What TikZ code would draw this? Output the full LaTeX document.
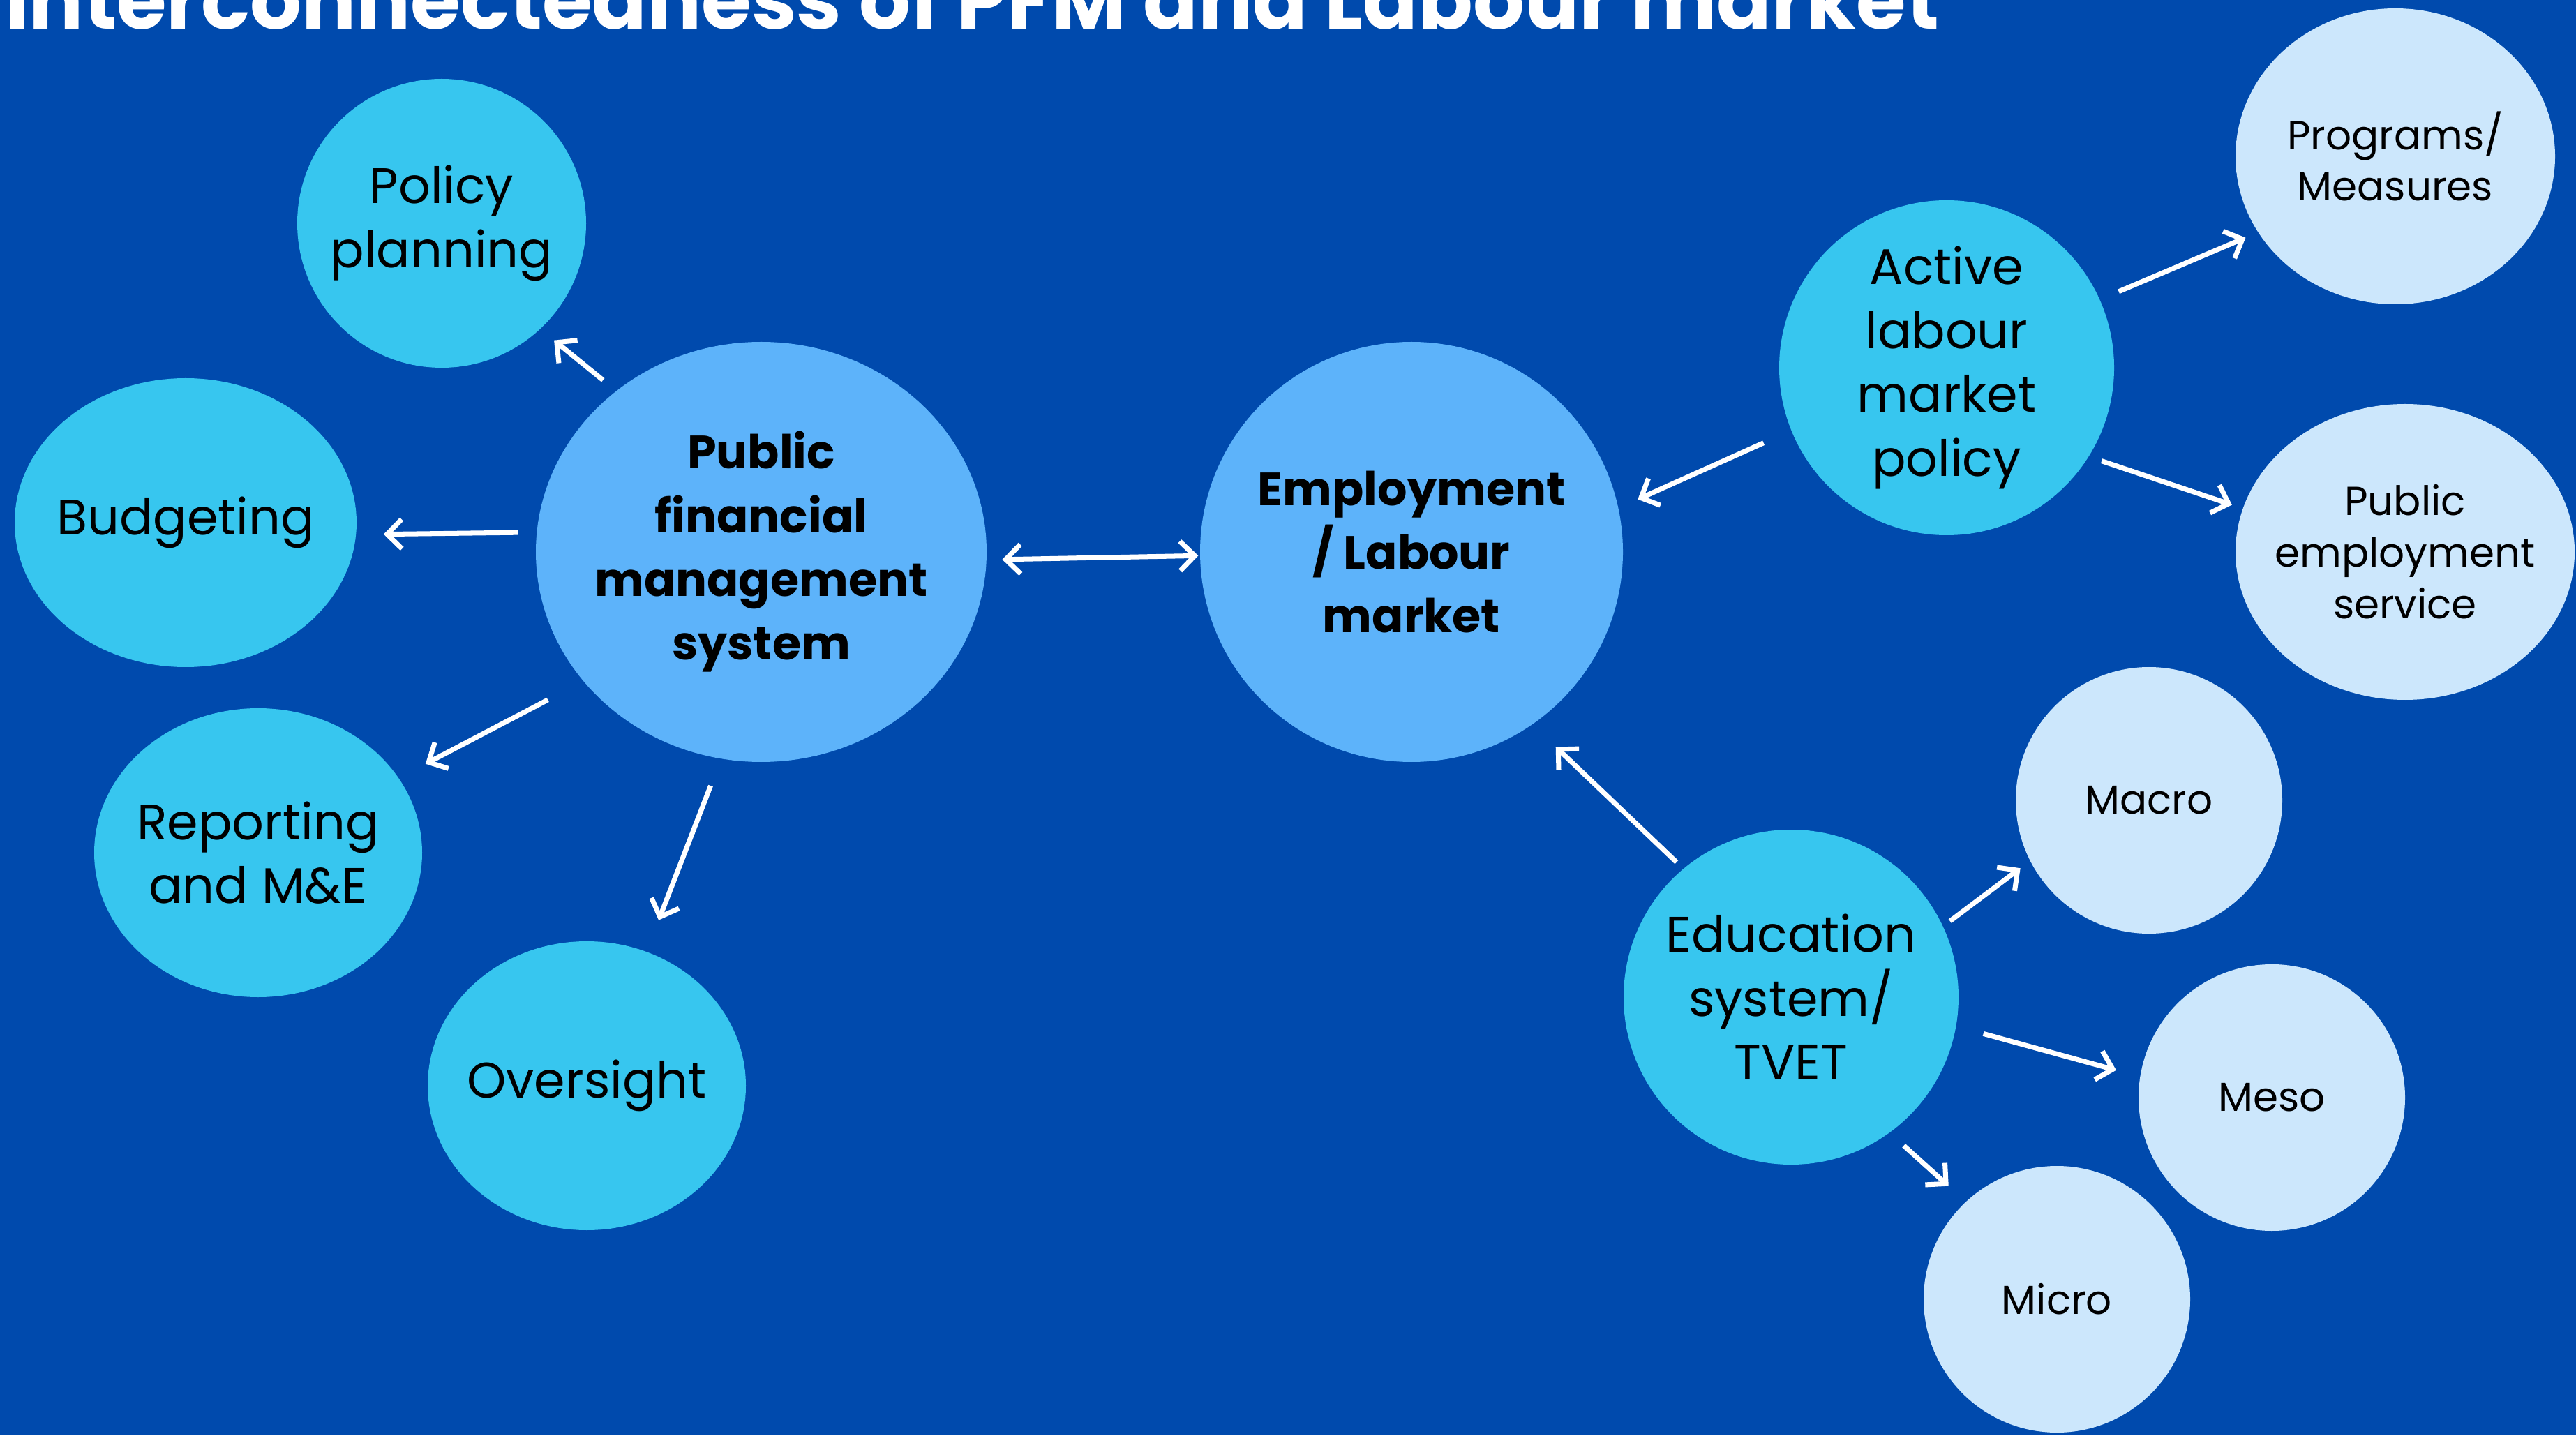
\documentclass[tikz,border=0pt]{standalone}
\usepackage{fontspec}
\setmainfont{Poppins}
\usepackage{tikz}
\usetikzlibrary{shapes.geometric,arrows.meta}
\definecolor{bgblue}{HTML}{004AAD}
\definecolor{cyanfill}{HTML}{37C6EF}
\definecolor{midfill}{HTML}{5DB3FA}
\definecolor{lightfill}{HTML}{CCE7FC}

\begin{document}
\begin{tikzpicture}[
    blob/.style={ellipse, inner sep=-8pt, align=center, text=black},
    topic/.style={blob, fill=cyanfill, font=\fontsize{20.4}{26}\selectfont},
    core/.style={blob, fill=midfill, font=\fontsize{19}{26}\selectfont\bfseries},
    leaf/.style={blob, fill=lightfill, font=\fontsize{16.5}{21}\selectfont},
    arr/.style={draw=white, line width=2pt, -{Straight Barb[length=6pt,width=12pt]}},
    both/.style={arr, {Straight Barb[length=6pt,width=12pt]}-{Straight Barb[length=6pt,width=12pt]}}
]
    % Background
    \fill[bgblue] (0,0) rectangle (36.92,20.57);
    \useasboundingbox (0,0) rectangle (36.92,20.57);

    % Title
    \node[anchor=base west, inner sep=0pt, text=white, font=\fontsize{33}{40}\selectfont\bfseries]
        (title) at (0.07,20.15) {Interconnectedness of PFM and Labour market};

    % Centre nodes
    \node[core, minimum width=6.46cm, minimum height=6.02cm] (pfm) at (10.91,12.66)
        {Public\\financial\\management\\system};
    \node[core, minimum width=6.06cm, minimum height=6.02cm] (employ) at (20.23,12.66)
        {Employment\\/ Labour\\market};

    % PFM side
    \node[topic, minimum width=4.14cm, minimum height=4.14cm] (policy) at (6.33,17.37) {Policy\\planning};
    \node[topic, minimum width=4.90cm, minimum height=4.14cm] (budget) at (2.66,13.08) {Budgeting};
    \node[topic, minimum width=4.70cm, minimum height=4.14cm] (report) at (3.70,8.35) {Reporting\\and M\&E};
    \node[topic, minimum width=4.56cm, minimum height=4.14cm] (oversight) at (8.41,5.01) {Oversight};

    % Labour market side
    \node[topic, minimum width=4.80cm, minimum height=4.80cm] (almp) at (27.90,15.30)
        {Active\\labour\\market\\policy};
    \node[topic, minimum width=4.80cm, minimum height=4.80cm] (educ) at (25.67,6.28)
        {Education\\system/\\TVET};
    \node[leaf, minimum width=4.58cm, minimum height=4.24cm] (programs) at (34.33,18.33) {Programs/\\Measures};
    \node[leaf, minimum width=4.86cm, minimum height=4.24cm] (pes) at (34.47,12.66) {Public\\employment\\service};
    \node[leaf, minimum width=3.82cm, minimum height=3.82cm] (macro) at (30.80,9.10) {Macro};
    \node[leaf, minimum width=3.82cm, minimum height=3.82cm] (meso) at (32.56,4.84) {Meso};
    \node[leaf, minimum width=3.82cm, minimum height=3.82cm] (micro) at (29.48,1.95) {Micro};

    % Arrows
    \draw[arr, shorten <=0.24cm, shorten >=0.25cm] (pfm.132) -- (policy.-47);
    \draw[arr, shorten <=0.26cm, shorten >=0.39cm] (pfm.175) -- (budget.-4);
    \draw[arr, shorten <=0.57cm, shorten >=0.43cm] (pfm.216) -- (report.28);
    \draw[arr, shorten <=0.41cm, shorten >=0.48cm] (pfm.-101) -- (oversight.66);
    \draw[both, shorten <=0.22cm, shorten >=0.02cm] (pfm.-2) -- (employ.181);
    \draw[arr, shorten <=0.43cm, shorten >=0.30cm] (almp.202) -- (employ.12);
    \draw[arr, shorten <=0.29cm, shorten >=0.19cm] (almp.24) -- (programs.209);
    \draw[arr, shorten <=0.19cm, shorten >=0.16cm] (almp.-32) -- (pes.165);
    \draw[arr, shorten <=0.13cm, shorten >=0.46cm] (educ.130) -- (employ.-55);
    \draw[arr, shorten <=0.12cm, shorten >=0.17cm] (educ.25) -- (macro.207);
    \draw[arr, shorten <=0.40cm, shorten >=0.35cm] (educ.-10) -- (meso.171);
    \draw[arr, shorten <=0.27cm, shorten >=0.33cm] (educ.-54) -- (micro.133);
\end{tikzpicture}
\end{document}
